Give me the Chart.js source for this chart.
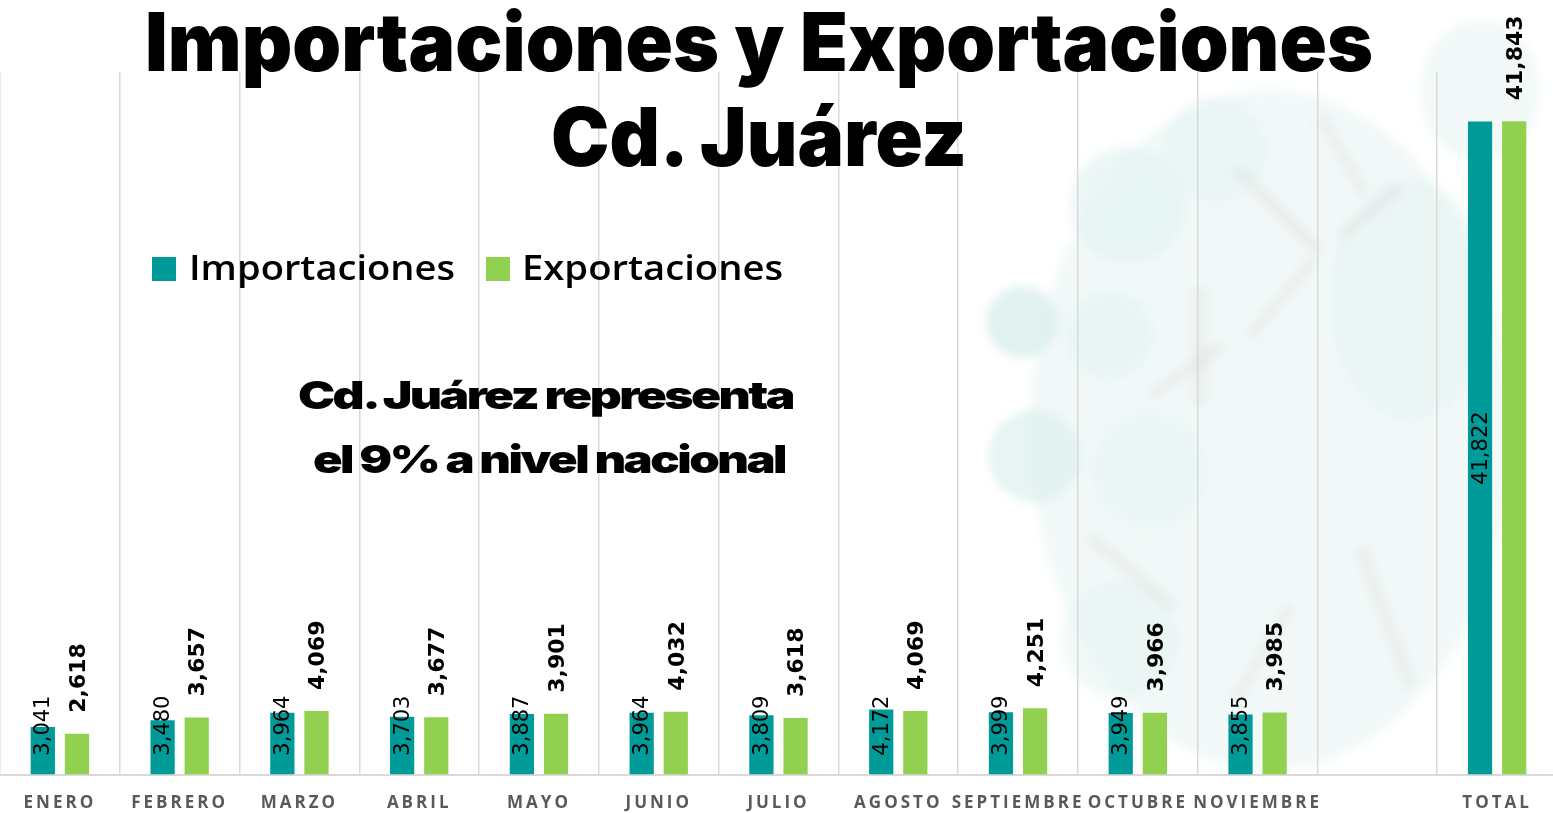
<!DOCTYPE html>
<html>
<head>
<meta charset="utf-8">
<script src="https://cdn.jsdelivr.net/npm/chart.js@4.4.1/dist/chart.umd.min.js"></script>
<style>
  html, body { margin: 0; padding: 0; background: #ffffff; }
  #wrap { position: relative; width: 1553px; height: 813px; overflow: hidden; background: #ffffff; }
  .bg { position: absolute; left: 0; top: 0; width: 1553px; height: 813px; opacity: 0.75; }
  .blob { position: absolute; border-radius: 50%; filter: blur(5px); }
  .stroke { position: absolute; background: rgba(190,180,182,0.2); filter: blur(4px); transform-origin: 0 50%; }
  canvas { position: absolute; left: 0; top: 0; }
  .txt { position: absolute; white-space: nowrap; line-height: 1; color: #000; transform-origin: 0 0; }
  .title { font-family: Inter, "DejaVu Sans", sans-serif; font-weight: 900; font-size: 81px; }
  .note { font-family: Inter, "Liberation Sans", sans-serif; font-weight: 900; font-size: 39px; letter-spacing: -2px; }
  .leg { font-family: "Open Sans", sans-serif; font-weight: 600; font-size: 35px; }
  .sq { position: absolute; width: 24px; height: 24px; }
</style>
</head>
<body>
<div id="wrap">
  <div class="bg" id="bg"></div>
  <canvas id="c" width="1557" height="835"></canvas>
  <div class="txt title" id="t1" data-left="145" data-top="2" data-w="1228">Importaciones y Exportaciones</div>
  <div class="txt title" id="t2" data-left="551" data-top="97" data-w="416">Cd. Juárez</div>
  <div class="sq" style="left:152px; top:257px; background:#009B98;"></div>
  <div class="txt leg" id="l1" data-left="189" data-top="249" data-w="266">Importaciones</div>
  <div class="sq" style="left:486px; top:257px; background:#92D050;"></div>
  <div class="txt leg" id="l2" data-left="522" data-top="249" data-w="261">Exportaciones</div>
  <div class="txt note" id="n1" data-left="298" data-top="374.5" data-w="495">Cd. Juárez representa</div>
  <div class="txt note" id="n2" data-left="313" data-top="438.5" data-w="472">el 9% a nivel nacional</div>
</div>
<script>
// ---- Data ----
const categories = ['ENERO', 'FEBRERO', 'MARZO', 'ABRIL', 'MAYO', 'JUNIO', 'JULIO', 'AGOSTO', 'SEPTIEMBRE', 'OCTUBRE', 'NOVIEMBRE', '', 'TOTAL'];
const importaciones = [3041, 3480, 3964, 3703, 3887, 3964, 3809, 4172, 3999, 3949, 3855, null, 41822];
const exportaciones = [2618, 3657, 4069, 3677, 3901, 4032, 3618, 4069, 4251, 3966, 3985, null, 41843];
const seriesNames = ['Importaciones', 'Exportaciones'];
const yMin = 0;
const yMax = 45000;

// ---- Decorative faded watermark (background) ----
const bg = document.getElementById('bg');
const blobs = [
  [1270, 430, 240, 340, 'rgba(214,238,236,0.45)'],
  [1022, 322, 36, 36, 'rgba(205,232,229,0.8)'],
  [1035, 456, 46, 46, 'rgba(208,234,231,0.7)'],
  [1128, 205, 58, 58, 'rgba(214,237,235,0.6)'],
  [1110, 335, 44, 44, 'rgba(214,237,235,0.5)'],
  [1215, 150, 52, 52, 'rgba(218,239,237,0.5)'],
  [1150, 470, 58, 58, 'rgba(218,239,237,0.45)'],
  [1120, 640, 58, 58, 'rgba(214,237,235,0.45)'],
  [1410, 300, 80, 120, 'rgba(214,237,235,0.45)'],
  [1480, 90, 60, 70, 'rgba(214,237,235,0.45)']
];
blobs.forEach(b => {
  const d = document.createElement('div');
  d.className = 'blob';
  d.style.left = (b[0] - b[2]) + 'px'; d.style.top = (b[1] - b[3]) + 'px';
  d.style.width = (2 * b[2]) + 'px'; d.style.height = (2 * b[3]) + 'px';
  d.style.background = b[4];
  bg.appendChild(d);
});
const strokes = [
  [1235, 160, 120, 14, 45], [1320, 110, 90, 12, 60], [1200, 280, 120, 14, 90],
  [1150, 390, 90, 12, -35], [1360, 540, 150, 14, 70], [1090, 530, 110, 14, 40],
  [1250, 330, 100, 12, -50], [1290, 600, 110, 12, 120], [1400, 180, 80, 12, 140]
];
strokes.forEach(s => {
  const d = document.createElement('div');
  d.className = 'stroke';
  d.style.left = s[0] + 'px'; d.style.top = s[1] + 'px';
  d.style.width = s[2] + 'px'; d.style.height = s[3] + 'px';
  d.style.transform = 'rotate(' + s[4] + 'deg)';
  bg.appendChild(d);
});

// ---- Fit overlay texts ----
document.querySelectorAll('.txt').forEach(el => {
  el.style.left = el.dataset.left + 'px';
  el.style.top = el.dataset.top + 'px';
  const w = el.getBoundingClientRect().width;
  const target = parseFloat(el.dataset.w);
  el.style.transform = 'scaleX(' + (target / w) + ')';
});

// ---- Plugins ----
const tickSpacing = {
  id: 'tickSpacing',
  beforeDraw(chart) { chart.ctx.letterSpacing = '3px'; },
  beforeDatasetsDraw(chart) { chart.ctx.letterSpacing = '0px'; }
};

const valueLabels = {
  id: 'valueLabels',
  afterDatasetsDraw(chart) {
    const ctx = chart.ctx;
    chart.data.datasets.forEach((ds, i) => {
      const meta = chart.getDatasetMeta(i);
      meta.data.forEach((bar, j) => {
        const v = ds.data[j];
        if (v === null || v === undefined) return;
        const txt = v.toLocaleString('en-US');
        ctx.save();
        ctx.fillStyle = '#000000';
        ctx.textBaseline = 'middle';
        if (i === 0) {
          ctx.font = '21px "DejaVu Sans"';
          const cy = Math.min((bar.y + bar.base) / 2, bar.base - 49);
          ctx.translate(bar.x + 1, cy);
          ctx.rotate(-Math.PI / 2);
          ctx.textAlign = 'center';
        } else {
          ctx.font = 'bold 22px "DejaVu Sans"';
          ctx.translate(bar.x + 2, bar.y - 21);
          ctx.rotate(-Math.PI / 2);
          ctx.textAlign = 'left';
        }
        ctx.fillText(txt, 0, 0);
        ctx.restore();
      });
    });
  }
};

new Chart(document.getElementById('c'), {
  type: 'bar',
  data: {
    labels: categories,
    datasets: [
      { label: seriesNames[0], data: importaciones, backgroundColor: '#009B98', categoryPercentage: 0.57, barPercentage: 0.71 },
      { label: seriesNames[1], data: exportaciones, backgroundColor: '#92D050', categoryPercentage: 0.57, barPercentage: 0.71 }
    ]
  },
  options: {
    responsive: false,
    animation: false,
    layout: { padding: { top: 72, left: 0, right: 0, bottom: 4 } },
    plugins: { legend: { display: false }, title: { display: false }, tooltip: { enabled: false } },
    scales: {
      x: {
        grid: { color: '#d9d9d9', lineWidth: 1.5, drawTicks: false, offset: true },
        border: { color: '#d9d9d9', width: 2 },
        ticks: { color: '#595959', font: { family: 'Open Sans', size: 17, weight: 'bold' }, padding: 18, maxRotation: 0, autoSkip: false }
      },
      y: { display: false, min: yMin, max: yMax }
    }
  },
  plugins: [tickSpacing, valueLabels]
});
</script>
</body>
</html>
